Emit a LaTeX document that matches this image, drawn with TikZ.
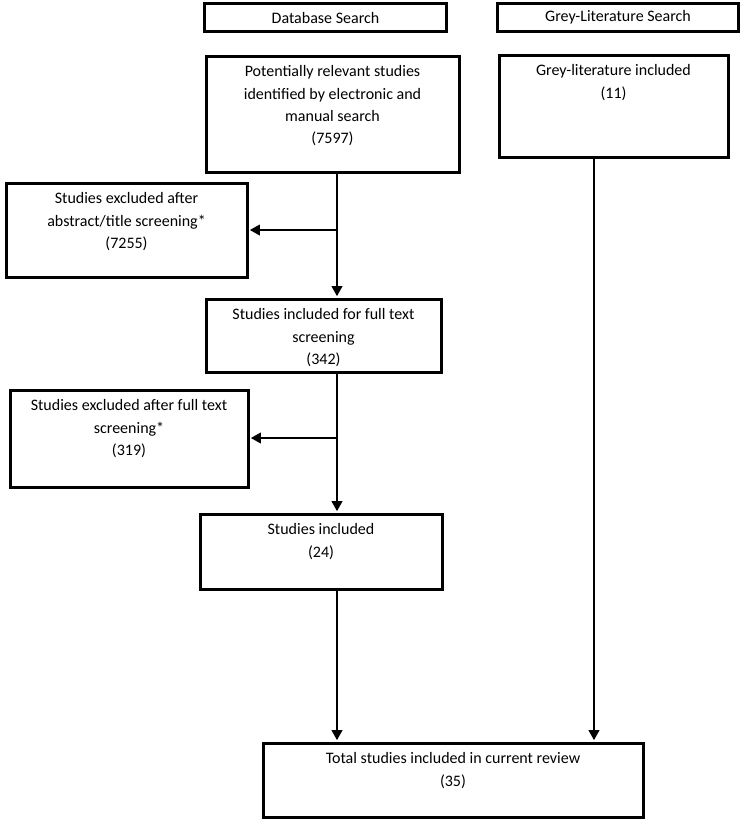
\documentclass[tikz,border=0pt]{standalone}
\usepackage{fontspec}
\setmainfont{Carlito}
\usetikzlibrary{arrows.meta}
\newcommand{\boxtext}[3]{\parbox[t][#2][t]{#1}{\centering\rule{0pt}{15.5pt}#3}}
\begin{document}
\begin{tikzpicture}[x=0.75pt,y=-0.75pt,
  head/.style={draw,line width=2.25pt,inner sep=0pt,font=\fontsize{12}{16.75}\selectfont},
  stage/.style={draw,line width=2.25pt,inner sep=0pt,anchor=north west,font=\fontsize{12}{16.75}\selectfont},
  flow/.style={line width=1.2pt,-{Triangle[length=7.5pt,width=8pt]},shorten >=1pt}]
\useasboundingbox (0,0) rectangle (742,819);
\node[head,minimum width=181.5pt,minimum height=21pt] (dbsearch) at (325.5,17.5) {Database Search};
\node[head,minimum width=180.75pt,minimum height=21pt] (greysearch) at (618,17.5) {Grey-Literature Search};
\node[stage] (potential) at (204.5,54.5) {\boxtext{189.75pt}{87pt}{Potentially relevant studies\\identified by electronic and\\manual search\\(7597)}};
\node[stage] (greyinc) at (497.5,53.5) {\boxtext{171.75pt}{76.5pt}{Grey-literature included\\(11)}};
\node[stage] (excl1) at (4.5,181.5) {\boxtext{180.75pt}{70.5pt}{Studies excluded after\\abstract/title screening*\\(7255)}};
\node[stage] (fulltext) at (204.5,297.5) {\boxtext{176.25pt}{54.75pt}{Studies included for full text\\screening\\(342)}};
\node[stage] (excl2) at (8.5,388.5) {\boxtext{178.5pt}{72.75pt}{Studies excluded after full text\\screening*\\(319)}};
\node[stage] (included) at (198.5,512.5) {\boxtext{181.5pt}{56.25pt}{Studies included\\(24)}};
\node[stage] (total) at (261.5,741.5) {\boxtext{285pt}{55.5pt}{Total studies included in current review\\(35)}};
\coordinate (trunk1) at (337,230);
\coordinate (trunk2) at (337,438);
\coordinate (greydrop) at (594,450);
\draw[flow] (potential.south -| trunk1) -- (fulltext.north -| trunk1);
\draw[flow] (trunk1) -- (trunk1 -| excl1.east);
\draw[flow] (fulltext.south -| trunk2) -- (included.north -| trunk2);
\draw[flow] (trunk2) -- (trunk2 -| excl2.east);
\draw[flow] (included.south -| trunk2) -- (total.north -| trunk2);
\draw[flow] (greyinc.south -| greydrop) -- (total.north -| greydrop);
\end{tikzpicture}
\end{document}
